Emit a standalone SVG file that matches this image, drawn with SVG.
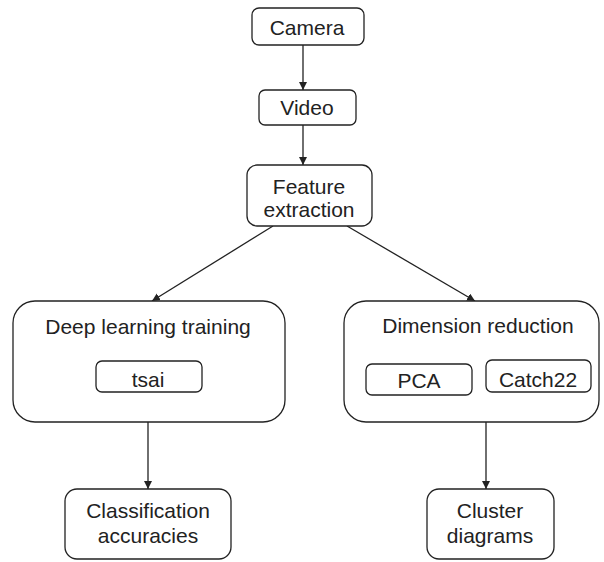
<svg xmlns="http://www.w3.org/2000/svg" width="604" height="562" viewBox="0 0 604 562">
<defs>
<marker id="ah" viewBox="0 0 10 10" refX="10" refY="5" markerWidth="8" markerHeight="8" markerUnits="userSpaceOnUse" orient="auto">
<path d="M0,0 L10,5 L0,10 z" fill="#222"/>
</marker>
</defs>
<style>
.box{fill:#fff;stroke:#222;stroke-width:1.3}
.t{font-family:"Liberation Sans",Arial,sans-serif;font-size:21px;fill:#222;text-anchor:middle}
.c{stroke:#222;stroke-width:1.3;fill:none;marker-end:url(#ah)}
</style>
<rect width="604" height="562" fill="#fff"/>
<g id="connectors">
<line class="c" x1="303" y1="45" x2="303" y2="90"/>
<line class="c" x1="303" y1="125" x2="303" y2="165"/>
<line class="c" x1="273" y1="226" x2="152" y2="301"/>
<line class="c" x1="347" y1="226" x2="475" y2="301"/>
<line class="c" x1="148" y1="422" x2="148" y2="489"/>
<line class="c" x1="486" y1="422" x2="486" y2="489"/>
</g>
<g id="camera"><rect class="box" x="252" y="8" width="112" height="37" rx="7"/><text class="t" x="307" y="35">Camera</text></g>
<g id="video"><rect class="box" x="259" y="90" width="97" height="35" rx="6"/><text class="t" x="307" y="115">Video</text></g>
<g id="feature"><rect class="box" x="247" y="165" width="125" height="61" rx="10"/><text class="t" x="309" y="194">Feature</text><text class="t" x="309" y="217">extraction</text></g>
<g id="deep"><rect class="box" x="13" y="301" width="272" height="121" rx="22"/><text class="t" x="148" y="334">Deep learning training</text></g>
<g id="tsai"><rect class="box" x="96" y="361" width="106" height="31" rx="6"/><text class="t" x="148" y="387">tsai</text></g>
<g id="dim"><rect class="box" x="344" y="301" width="255" height="121" rx="22"/><text class="t" x="478" y="333">Dimension reduction</text></g>
<g id="pca"><rect class="box" x="366" y="364" width="106" height="31" rx="6"/><text class="t" x="419" y="388">PCA</text></g>
<g id="catch22"><rect class="box" x="486" y="360" width="105" height="32" rx="6"/><text class="t" x="538" y="387">Catch22</text></g>
<g id="classification"><rect class="box" x="65" y="489" width="166" height="70" rx="12"/><text class="t" x="148" y="518">Classification</text><text class="t" x="148" y="543">accuracies</text></g>
<g id="cluster"><rect class="box" x="427" y="489" width="127" height="70" rx="12"/><text class="t" x="490" y="518">Cluster</text><text class="t" x="490" y="543">diagrams</text></g>
</svg>
